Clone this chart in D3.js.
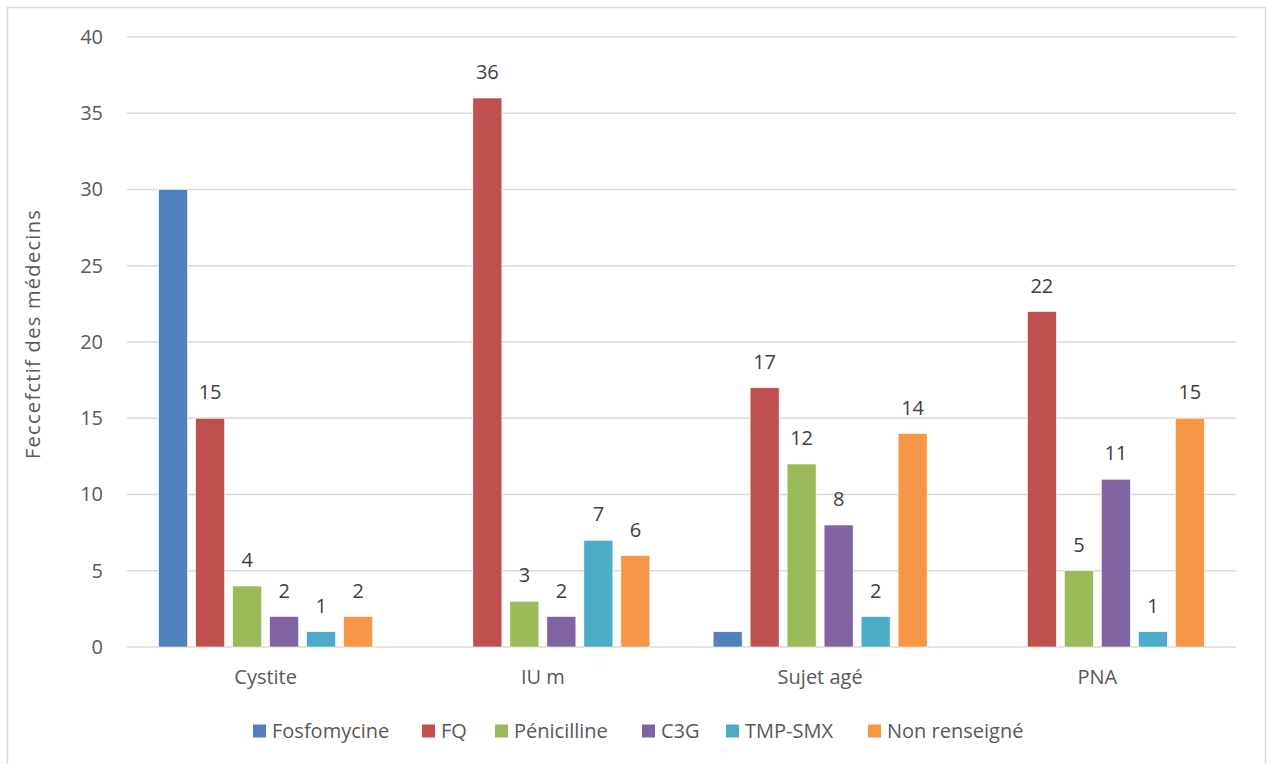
<!DOCTYPE html>
<html>
<head>
<meta charset="utf-8">
<script src="https://cdn.jsdelivr.net/npm/d3@7"></script>
<style>
  body { margin: 0; background: #fff; }
  svg text { font-family: "Open Sans", "Noto Sans", sans-serif; fill: #595959; }
</style>
</head>
<body>
<div id="chart"></div>
<script>
// data
const categories = ['Cystite', 'IU m', 'Sujet agé', 'PNA'];
const series = ['Fosfomycine', 'FQ', 'Pénicilline', 'C3G', 'TMP-SMX', 'Non renseigné'];
const colors = ['#4F81BD', '#C0504D', '#9BBB59', '#8064A2', '#4BACC6', '#F79646'];
// one array per series, aligned with categories (null = no bar)
const fosfomycine = [30, null, 1, null];
const fq = [15, 36, 17, 22];
const penicilline = [4, 3, 12, 5];
const c3g = [2, 2, 8, 11];
const tmpSmx = [1, 7, 2, 1];
const nonRenseigne = [2, 6, 14, 15];
const seriesValues = [fosfomycine, fq, penicilline, c3g, tmpSmx, nonRenseigne];
// Fosfomycine bars carry no value label in the original
const showLabel = [false, true, true, true, true, true];
const yTicks = [0, 5, 10, 15, 20, 25, 30, 35, 40];

const W = 1268, H = 764;
const margin = { LEFT: 127, RIGHT: 32, TOP: 37, BOTTOM: 117 };
const WIDTH = W - margin.LEFT - margin.RIGHT;
const HEIGHT = H - margin.TOP - margin.BOTTOM;

const svg = d3.select('#chart').append('svg')
  .attr('width', W)
  .attr('height', H);

// outer frame
svg.append('rect')
  .attr('x', 7.5).attr('y', 7.5)
  .attr('width', 1258).attr('height', 770)
  .attr('fill', 'none')
  .attr('stroke', '#d9d9d9')
  .attr('stroke-width', 1.5);

const g = svg.append('g')
  .attr('transform', `translate(${margin.LEFT}, ${margin.TOP})`);

const x0 = d3.scaleBand().domain(categories).range([0, WIDTH]);
const x1 = d3.scaleBand().domain(series).range([0, x0.bandwidth()])
  .paddingInner(0.216).paddingOuter(0.855);
const y = d3.scaleLinear().domain([0, 40]).range([HEIGHT, 0]);

// gridlines
g.append('g').selectAll('line')
  .data(yTicks)
  .join('line')
  .attr('x1', 0).attr('x2', WIDTH)
  .attr('y1', d => y(d)).attr('y2', d => y(d))
  .attr('stroke', '#d9d9d9')
  .attr('stroke-width', 1.5);

// y axis labels
const yAxis = g.append('g')
  .call(d3.axisLeft(y).tickValues(yTicks).tickSize(0).tickPadding(24));
yAxis.select('.domain').remove();
yAxis.selectAll('text')
  .attr('font-size', '20px')
  .attr('font-family', '"Open Sans", sans-serif')
  .attr('fill', '#595959');

// x axis labels
const xAxis = g.append('g')
  .attr('transform', `translate(0, ${HEIGHT})`)
  .call(d3.axisBottom(x0).tickSize(0).tickPadding(23));
xAxis.select('.domain').remove();
xAxis.selectAll('text')
  .attr('font-size', '20px')
  .attr('font-family', '"Open Sans", sans-serif')
  .attr('fill', '#595959');

// bars
const flat = [];
series.forEach((s, si) => {
  categories.forEach((c, ci) => {
    const v = seriesValues[si][ci];
    if (v !== null) flat.push({ s, si, c, v });
  });
});

g.append('g').selectAll('rect')
  .data(flat)
  .join('rect')
  .attr('x', d => x0(d.c) + x1(d.s))
  .attr('y', d => y(d.v))
  .attr('width', x1.bandwidth())
  .attr('height', d => HEIGHT - y(d.v))
  .attr('fill', d => colors[d.si])
  .attr('stroke', '#fff')
  .attr('stroke-width', 0.6);

// value labels
g.append('g').selectAll('text')
  .data(flat.filter(d => showLabel[d.si]))
  .join('text')
  .attr('x', d => x0(d.c) + x1(d.s) + x1.bandwidth() / 2)
  .attr('y', d => y(d.v) - 19)
  .attr('text-anchor', 'middle')
  .attr('font-size', '20px')
  .style('fill', '#404040')
  .text(d => d.v);

// y title
svg.append('text')
  .attr('transform', 'translate(40, 334) rotate(-90)')
  .attr('text-anchor', 'middle')
  .attr('font-size', '20px')
  .attr('letter-spacing', '1.3px')
  .text('Feccefctif des médecins');

// legend (swatch left edges, as in the original layout)
const legendX = [253, 422, 495, 642, 726, 868];
const legend = svg.append('g').attr('transform', 'translate(0, 731)');
const items = legend.selectAll('g')
  .data(series)
  .join('g')
  .attr('transform', (d, i) => `translate(${legendX[i]}, 0)`);
items.append('rect')
  .attr('x', 0).attr('y', -6.5)
  .attr('width', 13).attr('height', 13)
  .attr('fill', (d, i) => colors[i]);
items.append('text')
  .attr('x', 19)
  .attr('dy', '0.36em')
  .attr('font-size', '20px')
  .text(d => d);
</script>
</body>
</html>
